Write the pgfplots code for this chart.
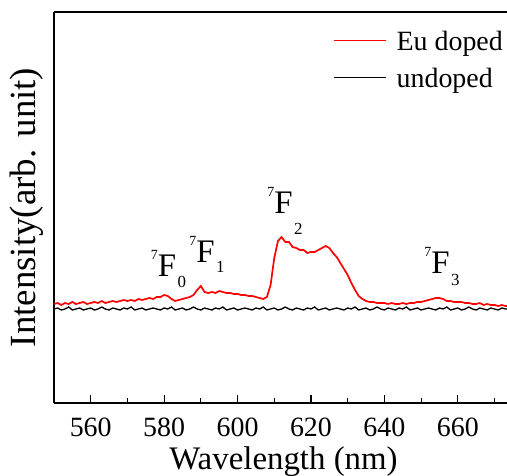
\documentclass[border=0pt]{standalone}
\usepackage{pgfplots}
\pgfplotsset{compat=1.18}
\usepackage{fontspec}
\setmainfont{Liberation Serif}
\newcommand{\lvl}[3]{\llap{\raisebox{17bp}{\fontsize{14}{14}\selectfont #1}}F\rlap{\kern1.5bp\raisebox{#3}{\fontsize{17}{17}\selectfont #2}}}
\newcommand{\tl}[1]{\fontsize{28}{28}\selectfont #1}
\begin{document}
\begin{tikzpicture}
\begin{axis}[
  scale only axis, width=453bp, height=391bp,
  xmin=550, xmax=673.4, ymin=0, ymax=391,
  axis y line*=left, axis x line*=box,
  axis line style={line width=1.5bp},
  xtick={560,580,...,660}, xticklabels={\tl{560},\tl{580},\tl{600},\tl{620},\tl{640},\tl{660}},
  minor xtick={570,590,...,670},
  xtick pos=bottom, tick align=inside,
  major tick length=8bp, minor tick length=5bp,
  every tick/.style={line width=1.2bp, black},
  ytick=\empty,
  tick label style={font=\fontsize{28}{28}\selectfont},
  xticklabel style={anchor=base, inner sep=0pt, yshift=-33bp},
  xlabel={Wavelength (nm)}, ylabel={Intensity(arb. unit)},
  xlabel style={font=\fontsize{33}{33}\selectfont, at={(rel axis cs:0.5,0)}, anchor=base, inner sep=0pt, yshift=-66bp, xshift=3bp},
  ylabel style={font=\fontsize{37}{37}\selectfont, at={(rel axis cs:0,0.5)}, anchor=base, inner sep=0pt, yshift=18bp},
  legend style={draw=none, fill=none, at={(rel axis cs:1,1)}, anchor=north east,
    xshift=-4bp, yshift=-14bp, inner xsep=0pt, inner ysep=0pt,
    font=\fontsize{28}{28}\selectfont, row sep=9bp, column sep=10bp,
    nodes={inner sep=0pt, text height=24bp, text depth=4bp}},
  legend cell align=left,
  legend image code/.code={\draw[#1, line width=0.7bp] (0bp,0bp) -- (52bp,0bp);},
  clip=true,
]
\addplot[red, line width=1.7bp] coordinates {
(550,99)(551,100)(552,98)(553,100)(554,99)(555,101)(556,99)(557,100)(558,101)(559,99)
(560,100)(561,101)(562,100)(563,102)(564,100)(565,101)(566,102)(567,101)(568,102)(569,103)
(570,102)(571,103)(572,102)(573,104)(574,103)(575,104)(576,105)(577,104)(578,106)(579,106)
(580,108)(581,107)(582,104)(583,102)(584,103)(585,104)(586,105)(587,106)(588,108)(589,113)
(590,117)(591,111)(592,110)(593,111)(594,110)(595,112)(596,111)(597,110)(598,110)(599,109)
(600,109)(601,108)(602,108)(603,107)(604,107)(605,106)(606,105)(607,104)(608,106)(609,118)
(610,145)(611,162)(612,166)(613,161)(614,161)(615,156)(616,155)(617,153)(618,153)(619,150)
(620,151)(621,151)(622,153)(623,155)(624,157)(625,155)(626,150)(627,146)(628,140)(629,134)
(630,128)(631,120)(632,113)(633,107)(634,104)(635,102)(636,101)(637,101)(638,100)(639,100)
(640,100)(641,99)(642,100)(643,99)(644,99)(645,100)(646,99)(647,100)(648,100)(649,101)
(650,101)(651,102)(652,103)(653,104)(654,105)(655,105)(656,104)(657,102)(658,102)(659,101)
(660,101)(661,101)(662,100)(663,100)(664,99)(665,99)(666,100)(667,98)(668,99)(669,98)
(670,98)(671,97)(672,98)(673,97)(674,97)
};
\addlegendentry{Eu doped}
\addplot[black, line width=1.3bp] coordinates {
(550,94)(551,95)(552,93)(553,94)(554,96)(555,93)(556,94)(557,95)(558,93)(559,94)
(560,95)(561,93)(562,94)(563,96)(564,94)(565,93)(566,95)(567,94)(568,93)(569,95)
(570,94)(571,96)(572,93)(573,94)(574,95)(575,93)(576,94)(577,95)(578,94)(579,93)
(580,95)(581,94)(582,96)(583,93)(584,94)(585,95)(586,93)(587,94)(588,96)(589,94)
(590,93)(591,95)(592,94)(593,93)(594,95)(595,94)(596,96)(597,93)(598,94)(599,95)
(600,93)(601,94)(602,95)(603,94)(604,93)(605,95)(606,94)(607,96)(608,93)(609,94)
(610,95)(611,93)(612,94)(613,96)(614,94)(615,93)(616,95)(617,94)(618,93)(619,95)
(620,94)(621,96)(622,93)(623,94)(624,95)(625,93)(626,94)(627,95)(628,94)(629,93)
(630,95)(631,94)(632,96)(633,93)(634,94)(635,95)(636,93)(637,94)(638,96)(639,94)
(640,93)(641,95)(642,94)(643,93)(644,95)(645,94)(646,96)(647,93)(648,94)(649,95)
(650,93)(651,94)(652,95)(653,94)(654,93)(655,95)(656,94)(657,96)(658,93)(659,94)
(660,95)(661,93)(662,94)(663,96)(664,94)(665,93)(666,95)(667,94)(668,93)(669,95)
(670,94)(671,93)(672,95)(673,94)(674,94)
};
\addlegendentry{undoped}
\node[anchor=base, inner sep=0pt, font=\fontsize{33}{33}\selectfont] at (axis cs:580.78,126) {\lvl{7}{0}{-11bp}};
\node[anchor=base, inner sep=0pt, font=\fontsize{33}{33}\selectfont] at (axis cs:591.27,140) {\lvl{7}{1}{-10bp}};
\node[anchor=base, inner sep=0pt, font=\fontsize{33}{33}\selectfont] at (axis cs:612.52,189) {\lvl{7}{2}{-21bp}};
\node[anchor=base, inner sep=0pt, font=\fontsize{33}{33}\selectfont] at (axis cs:655.28,129) {\lvl{7}{3}{-12bp}};
\end{axis}
\pgfresetboundingbox
\path[use as bounding box] ([shift={(-54bp,-73bp)}]current axis.south west) rectangle ([shift={(0bp,12bp)}]current axis.north east);
\end{tikzpicture}
\end{document}
